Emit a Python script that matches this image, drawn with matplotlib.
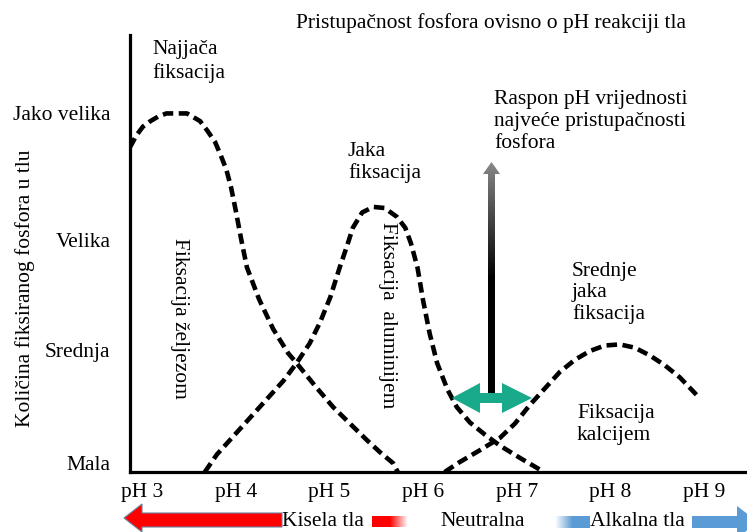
import numpy as np
import matplotlib
matplotlib.use("Agg")
import matplotlib.pyplot as plt
from matplotlib.patches import Polygon
from matplotlib.colors import LinearSegmentedColormap

plt.rcParams['font.family'] = ['Liberation Serif', 'DejaVu Serif']

# ---------------- data ----------------
title = "Pristupačnost fosfora ovisno o pH reakciji tla"
ylabel = "Količina fiksiranog fosfora u tlu"
ph_ticks = [3, 4, 5, 6, 7, 8, 9]
ph_labels = ["pH 3", "pH 4", "pH 5", "pH 6", "pH 7", "pH 8", "pH 9"]
level_pos = [0.08, 1.11, 2.11, 3.26]
level_labels = ["Mala", "Srednja", "Velika", "Jako velika"]

fe_ph = [2.87, 2.94, 3.01, 3.09, 3.17, 3.26, 3.35, 3.48, 3.62, 3.70, 3.78, 3.84,
         3.90, 3.95, 4.00, 4.06, 4.12, 4.25, 4.40, 4.56, 4.65, 4.85, 5.04, 5.22,
         5.40, 5.54, 5.68, 5.73]
fe_y = [2.95, 3.06, 3.14, 3.19, 3.23, 3.26, 3.26, 3.26, 3.19, 3.10, 3.00, 2.88,
        2.75, 2.59, 2.38, 2.11, 1.86, 1.57, 1.30, 1.08, 0.99, 0.78, 0.59, 0.44,
        0.29, 0.18, 0.08, 0.0]

al_ph = [3.67, 3.80, 3.97, 4.15, 4.33, 4.51, 4.65, 4.79, 4.90, 5.01, 5.11, 5.19,
         5.25, 5.35, 5.47, 5.59, 5.72, 5.81, 5.87, 5.94, 6.00, 6.07, 6.15, 6.26,
         6.36, 6.50, 6.66, 6.82, 7.03, 7.25]
al_y = [0.0, 0.16, 0.32, 0.49, 0.66, 0.83, 0.99, 1.17, 1.36, 1.59, 1.86, 2.06,
        2.22, 2.36, 2.41, 2.40, 2.32, 2.22, 2.08, 1.86, 1.56, 1.26, 0.99, 0.75,
        0.59, 0.45, 0.34, 0.24, 0.13, 0.02]

ca_ph = [6.23, 6.39, 6.61, 6.82, 6.98, 7.14, 7.30, 7.46, 7.62, 7.78, 7.94, 8.10,
         8.26, 8.42, 8.58, 8.74, 8.92]
ca_y = [0.0, 0.09, 0.20, 0.31, 0.44, 0.61, 0.76, 0.91, 1.02, 1.10, 1.15, 1.16,
        1.13, 1.06, 0.97, 0.86, 0.70]

W, H = 747, 532
fig = plt.figure(figsize=(W / 100, H / 100), dpi=100)

# main axes
ax = fig.add_axes([130 / W, (H - 472) / H, (W - 130) / W, (472 - 35) / H])
ax.set_xlim(2.872, 9.457)
ax.set_ylim(0, 3.973)
for s in ['top', 'right']:
    ax.spines[s].set_visible(False)
for s in ['left', 'bottom']:
    ax.spines[s].set_linewidth(2.3)
    ax.spines[s].set_color('black')
    ax.spines[s].set_zorder(5)

dash_kw = dict(color='black', lw=3.3, dashes=(2.3, 1.2), dash_capstyle='butt', zorder=3)
ax.plot(fe_ph, fe_y, **dash_kw)
ax.plot(al_ph, al_y, **dash_kw)
ax.plot(ca_ph, ca_y, **dash_kw)

fs = 15.5
ax.set_xticks(ph_ticks)
ax.set_xticklabels(ph_labels, fontsize=fs)
ax.set_yticks(level_pos)
ax.set_yticklabels(level_labels, fontsize=fs)
ax.tick_params(axis='both', length=0)
ax.tick_params(axis='x', pad=8)
ax.tick_params(axis='y', pad=14)

# overlay axes in pixel space for annotations
ov = fig.add_axes([0, 0, 1, 1], zorder=10)
ov.set_xlim(0, W)
ov.set_ylim(H, 0)
ov.axis('off')
ov.patch.set_alpha(0)

ov.text(491, 23, title, ha='center', va='center', fontsize=fs)
ov.text(25, 288, ylabel, ha='center', va='center', rotation=90, fontsize=fs)
ov.text(152, 61.5, "Najjača\nfiksacija", ha='left', va='center', fontsize=fs, linespacing=1.25)
ov.text(494, 121.5, "Raspon pH vrijednosti\nnajveće pristupačnosti\nfosfora", ha='left',
        va='center', fontsize=fs, linespacing=1.23)
ov.text(348, 162.5, "Jaka\nfiksacija", ha='left', va='center', fontsize=fs, linespacing=1.16)
ov.text(572, 293, "Srednje\njaka\nfiksacija", ha='left', va='center', fontsize=fs, linespacing=1.16)
ov.text(577, 424.5, "Fiksacija\nkalcijem", ha='left', va='center', fontsize=fs, linespacing=1.16)
ov.text(180, 318, "Fiksacija željezom", ha='center', va='center', rotation=-90, fontsize=fs)
ov.text(388, 315, "Fiksacija  aluminijem", ha='center', va='center', rotation=-90, fontsize=fs)

# vertical gradient arrow
varrow = [(488, 396), (488, 174), (483, 174), (491.5, 162), (500, 174), (495, 174), (495, 396)]
vpoly = Polygon(varrow, closed=True, facecolor='none', edgecolor='none')
ov.add_patch(vpoly)
grad = np.linspace(0, 1, 256).reshape(-1, 1)
cm_v = LinearSegmentedColormap.from_list('v', ['#000000', '#000000', '#8a8a8a'])
im = ov.imshow(grad, cmap=cm_v, extent=(482, 501, 396, 160), aspect='auto', origin='lower', zorder=6)
im.set_clip_path(vpoly)

# green double arrow
teal = '#19a98b'
garrow = [(452, 398), (480, 383), (480, 393), (502, 393), (502, 383), (532, 398),
          (502, 413), (502, 403), (480, 403), (480, 413)]
ov.add_patch(Polygon(garrow, closed=True, facecolor=teal, edgecolor='none', zorder=7))

# bottom red arrow (acid)
red_arrow = [(124, 518), (142, 504), (142, 513), (282, 513), (282, 527), (142, 527), (142, 532)]
ov.add_patch(Polygon(red_arrow, closed=True, facecolor='#ff0000', edgecolor='#6a7fa0', lw=0.8, zorder=6))
ov.text(282, 521, "Kisela tla", ha='left', va='center', fontsize=fs)
cm_r = LinearSegmentedColormap.from_list('r', ['#ff0000', '#ff0000', '#ffffff'])
ov.imshow(np.linspace(0, 1, 64).reshape(1, -1), cmap=cm_r, extent=(372, 408, 527, 516),
          aspect='auto', zorder=6)

ov.text(440, 521, "Neutralna", ha='left', va='center', fontsize=fs)

# blue (alkaline)
blue = '#5b9bd5'
cm_b = LinearSegmentedColormap.from_list('b', ['#ffffff', blue, blue])
ov.imshow(np.linspace(0, 1, 64).reshape(1, -1), cmap=cm_b, extent=(555, 590, 528, 516),
          aspect='auto', zorder=6)
ov.text(590, 521, "Alkalna tla", ha='left', va='center', fontsize=fs)
blue_arrow = [(692, 516), (737, 516), (737, 506), (758, 522), (737, 538), (737, 528), (692, 528)]
ov.add_patch(Polygon(blue_arrow, closed=True, facecolor=blue, edgecolor='none', zorder=6))

ov.set_xlim(0, W)
ov.set_ylim(H, 0)

fig.savefig("out.png", dpi=100)
